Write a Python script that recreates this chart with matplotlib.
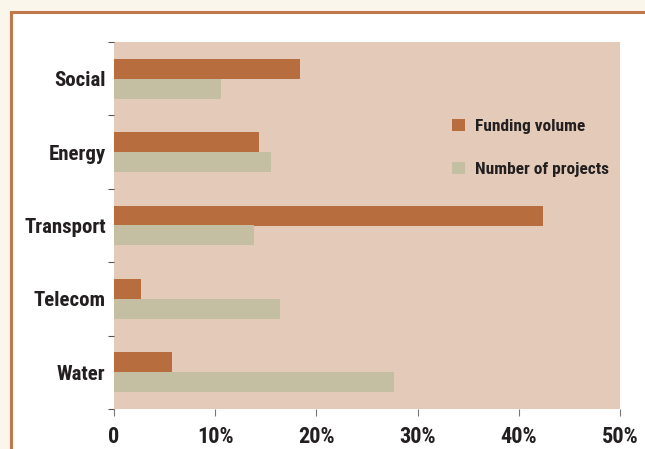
import matplotlib
matplotlib.use("Agg")
import matplotlib.pyplot as plt
from matplotlib.patches import Rectangle
from matplotlib import font_manager
import numpy as np

# values (percent)
categories = ["Social", "Energy", "Transport", "Telecom", "Water"]
funding_volume = [18.4, 14.3, 42.4, 2.7, 5.7]
number_of_projects = [10.6, 15.5, 13.8, 16.4, 27.7]
x_ticks = [0, 10, 20, 30, 40, 50]
x_tick_labels = ["0", "10%", "20%", "30%", "40%", "50%"]

c_funding = "#B76D3D"
c_number = "#C4BFA3"
c_panel = "#E4CBB9"
c_outer = "#FBF6EB"
c_frame = "#C0784B"
c_text = "#231F20"

# condensed bold face like the original, whichever is installed
installed = {f.name for f in font_manager.fontManager.ttflist}
candidates = ["Roboto Condensed", "Archivo Narrow", "PT Sans Narrow", "Fira Sans Condensed",
              "Barlow Condensed", "IBM Plex Sans Condensed", "Liberation Sans Narrow", "Oswald"]
families = [f for f in candidates if f in installed] + ["DejaVu Sans"]
plt.rcParams["font.family"] = families
plt.rcParams["font.weight"] = "heavy"

fig = plt.figure(figsize=(6.45, 4.49), dpi=100)
fig.patch.set_facecolor(c_outer)

# white inner area with brown frame
fig.patches.append(Rectangle((10.5 / 645, -0.05), 1.0, 1 - 12.5 / 449 + 0.05,
                             transform=fig.transFigure, facecolor="white",
                             edgecolor=c_frame, linewidth=2.2, zorder=-10))

ax = fig.add_axes([114 / 645, 40 / 449, 506 / 645, 367 / 449])
ax.set_facecolor(c_panel)

y = np.arange(len(categories))
h = 0.27
ax.barh(y - h / 2, funding_volume, height=h, color=c_funding, label="Funding volume")
ax.barh(y + h / 2, number_of_projects, height=h, color=c_number, label="Number of projects")

ax.set_xlim(0, 50)
ax.set_ylim(len(categories) - 0.5, -0.5)

ax.set_xticks(x_ticks)
ax.set_xticklabels(x_tick_labels, fontsize=16, color=c_text, fontweight="heavy")
ax.set_yticks(y)
ax.set_yticklabels(categories, fontsize=15, color=c_text, fontweight="heavy")
ax.tick_params(axis="y", length=0, pad=6)
ax.set_yticks(np.arange(-0.5, len(categories)), minor=True)
ax.tick_params(axis="y", which="minor", length=4, color="#555555", width=0.8)
ax.tick_params(axis="x", length=5, color="#777777", width=0.8, pad=7)

for s in ax.spines.values():
    s.set_visible(False)

leg = ax.legend(loc="upper left", bbox_to_anchor=(0.655, 0.81), frameon=False,
                fontsize=12.5, handlelength=0.72, handleheight=0.72,
                handletextpad=0.6, labelspacing=1.6, borderaxespad=0)
for t in leg.get_texts():
    t.set_color(c_text)
    t.set_fontweight("heavy")

fig.savefig("out.png", dpi=100, facecolor=fig.get_facecolor())
